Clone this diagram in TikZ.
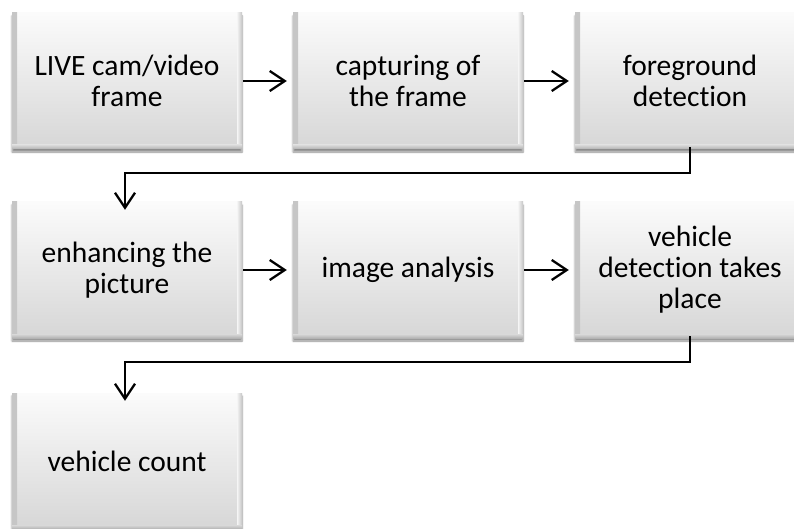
\documentclass[tikz,border=0pt]{standalone}
\usepackage{fontspec}
\setmainfont[Ligatures={NoCommon,NoRare}]{Carlito}
\usetikzlibrary{arrows.meta,shadows.blur,positioning}

\tikzset{
  x=1pt, y=-1pt,
  stepbox/.style={
    rectangle, minimum width=230pt, minimum height=136pt, inner sep=0pt,
    align=center, font=\fontsize{29.5}{31}\selectfont,
    top color=gray!3, bottom color=gray!32,
    blur shadow={shadow xshift=0pt, shadow yshift=-3pt, shadow blur steps=6, shadow opacity=45},
    path picture={
      % bevelled rim on the left, right and lower edges
      \shade[left color=gray!45, right color=gray!8]
        (path picture bounding box.north west) rectangle ([xshift=5pt]path picture bounding box.south west);
      \shade[right color=gray!45, left color=gray!8]
        ([xshift=-5pt]path picture bounding box.north east) rectangle (path picture bounding box.south east);
      \shade[bottom color=gray!60, top color=gray!30]
        ([yshift=4pt]path picture bounding box.south west) rectangle (path picture bounding box.south east);
    }
  },
  flow/.style={line width=2.3pt, -{Straight Barb[length=15pt,width=20pt,line width=2.3pt]}},
}

\begin{document}
\begin{tikzpicture}
  \useasboundingbox (0,0) rectangle (794,529);
  \clip (0,0) rectangle (794,529);

  % first row
  \node[stepbox] (b1) at (127,81)  {LIVE cam/video\\frame};
  \node[stepbox] (b2) at (408,81)  {capturing of\\the frame};
  \node[stepbox] (b3) at (690,81)  {foreground\\detection};
  % second row
  \node[stepbox] (b4) at (127,270) {enhancing the\\picture};
  \node[stepbox] (b5) at (408,270) {image analysis};
  \node[stepbox] (b6) at (690,270) {vehicle\\detection takes\\place};
  % third row
  \node[stepbox] (b7) at (127,461) {vehicle count};

  % arrows along each row
  \draw[flow] ([xshift=1pt]b1.east) -- ([xshift=-6pt]b2.west);
  \draw[flow] ([xshift=1pt]b2.east) -- ([xshift=-6pt]b3.west);
  \draw[flow] ([xshift=1pt]b4.east) -- ([xshift=-6pt]b5.west);
  \draw[flow] ([xshift=1pt]b5.east) -- ([xshift=-6pt]b6.west);

  % elbow connectors down to the next row
  \coordinate (t1) at ([xshift=-2pt]b4.north);
  \coordinate (t2) at ([xshift=-2pt]b7.north);
  \draw[flow] ([yshift=2pt]b3.south) -- ++(0,26) -| ([yshift=-8pt]t1);
  \draw[flow] ([yshift=2pt]b6.south) -- ++(0,26) -| ([yshift=-8pt]t2);
\end{tikzpicture}
\end{document}
